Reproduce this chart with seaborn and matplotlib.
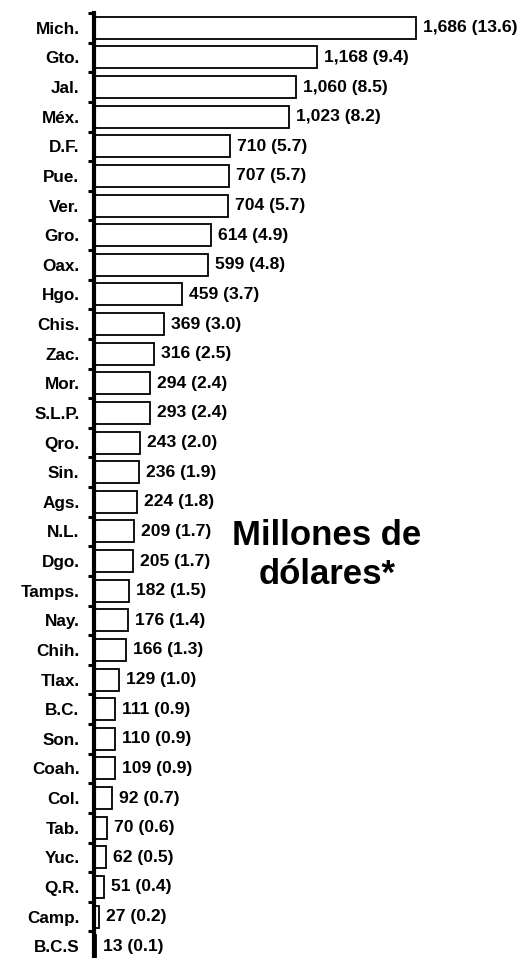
import matplotlib
matplotlib.use("Agg")
import matplotlib.pyplot as plt
import seaborn as sns
import pandas as pd
import numpy as np

states = ["Mich.", "Gto.", "Jal.", "Méx.", "D.F.", "Pue.", "Ver.", "Gro.", "Oax.", "Hgo.",
          "Chis.", "Zac.", "Mor.", "S.L.P.", "Qro.", "Sin.", "Ags.", "N.L.", "Dgo.", "Tamps.",
          "Nay.", "Chih.", "Tlax.", "B.C.", "Son.", "Coah.", "Col.", "Tab.", "Yuc.", "Q.R.",
          "Camp.", "B.C.S"]
values = [1686, 1168, 1060, 1023, 710, 707, 704, 614, 599, 459,
          369, 316, 294, 293, 243, 236, 224, 209, 205, 182,
          176, 166, 129, 111, 110, 109, 92, 70, 62, 51,
          27, 13]
shares = [13.6, 9.4, 8.5, 8.2, 5.7, 5.7, 5.7, 4.9, 4.8, 3.7,
          3.0, 2.5, 2.4, 2.4, 2.0, 1.9, 1.8, 1.7, 1.7, 1.5,
          1.4, 1.3, 1.0, 0.9, 0.9, 0.9, 0.7, 0.6, 0.5, 0.4,
          0.2, 0.1]
annotation = "Millones de\ndólares*"

sns.set_style("white")
plt.rcParams["font.family"] = ["Liberation Sans", "DejaVu Sans"]
plt.rcParams["text.color"] = "black"
plt.rcParams["ytick.color"] = "black"
plt.rcParams["ytick.labelcolor"] = "black"

df = pd.DataFrame({"estado": states, "valor": values, "pct": shares})

W, H = 530, 958
fig = plt.figure(figsize=(W / 100, H / 100), dpi=100)
ax = fig.add_axes([94 / W, -3 / H, (W - 94) / W, 948 / H])

sns.barplot(data=df, x="valor", y="estado", orient="h", color="white",
            edgecolor="black", linewidth=1.3, saturation=1, width=0.74, ax=ax)

n = len(states)
ax.set_ylim(n - 0.5, -0.5)
ax.set_xlim(0, 2283)
ax.set_xlabel("")
ax.set_ylabel("")
ax.set_xticks([])

for s in ["top", "right", "bottom"]:
    ax.spines[s].set_visible(False)
ax.spines["left"].set_linewidth(3)
ax.spines["left"].set_color("black")

ax.tick_params(axis="y", which="major", length=0, pad=10.5, labelsize=12.3,
               labelcolor="black")
for lab in ax.get_yticklabels():
    lab.set_fontweight("bold")
    lab.set_color("black")
ax.set_yticks(np.arange(-0.5, n - 0.5, 1), minor=True)
ax.tick_params(axis="y", which="minor", direction="out", length=4, width=2.2,
               color="black", left=True)

for i, (v, p) in enumerate(zip(values, shares)):
    ax.annotate(f"{v:,} ({p:.1f})", xy=(v, i), xytext=(5, 0), textcoords="offset points",
                ha="left", va="center", fontsize=12.6, fontweight="bold", color="black",
                annotation_clip=False)

fig.text(327 / W, 1 - 555 / H, annotation, ha="center", va="center",
         fontsize=25, fontweight="bold", color="black", linespacing=1.22)

fig.savefig("out.png", dpi=100)
